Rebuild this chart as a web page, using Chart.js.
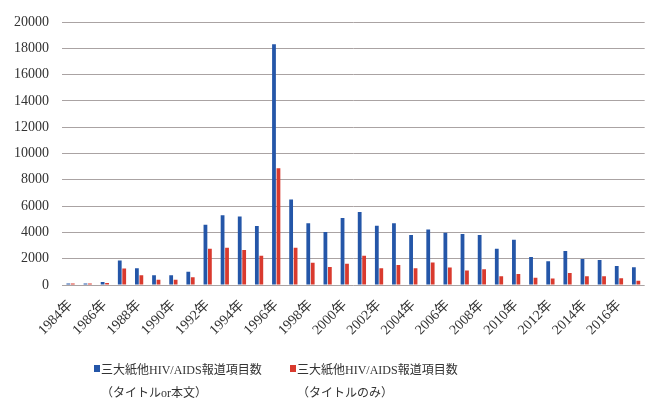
<!DOCTYPE html>
<html lang="ja">
<head>
<meta charset="utf-8">
<script src="https://cdn.jsdelivr.net/npm/chart.js@4/dist/chart.umd.min.js"></script>
<style>
  html, body { margin: 0; padding: 0; background: #fff; overflow: hidden; }
  #wrap { position: relative; width: 654px; height: 398px; overflow: hidden; }
  #legend { position: absolute; left: 0; top: 0; width: 654px; height: 398px; pointer-events: none;
    font-family: 'Liberation Serif', 'Noto Sans CJK JP', serif; font-size: 12px; color: #333; }
  .item { position: absolute; top: 359px; line-height: 23px; }
  .box { position: absolute; left: -7px; top: 6px; width: 6px; height: 7px; }
</style>
</head>
<body>
<div id="wrap">
  <canvas id="chart" width="660" height="398"></canvas>
  <div id="legend">
    <div class="item" style="left:101px"><span class="box" style="background:#2456a8"></span>三大紙他HIV/AIDS報道項目数<br>（タイトルor本文）</div>
    <div class="item" style="left:297px"><span class="box" style="background:#d93a2e"></span>三大紙他HIV/AIDS報道項目数<br>（タイトルのみ）</div>
  </div>
</div>
<script>
// Years 1984-2017
const years = [
  "1984年", "1985年", "1986年", "1987年", "1988年", "1989年", "1990年", "1991年", "1992年", "1993年",
  "1994年", "1995年", "1996年", "1997年", "1998年", "1999年", "2000年", "2001年", "2002年", "2003年",
  "2004年", "2005年", "2006年", "2007年", "2008年", "2009年", "2010年", "2011年", "2012年", "2013年",
  "2014年", "2015年", "2016年", "2017年"
];

// title or body text
const titleOrBody = [
  120, 120, 220, 1870, 1270, 740, 740, 1010, 4590, 5300,
  5200, 4480, 18300, 6500, 4700, 4030, 5100, 5550, 4510, 4700,
  3800, 4230, 3980, 3880, 3800, 2760, 3440, 2130, 1800, 2590,
  1980, 1900, 1440, 1350
];

// title only
const titleOnly = [
  110, 120, 150, 1260, 740, 400, 400, 590, 2760, 2840,
  2660, 2230, 8870, 2840, 1700, 1370, 1620, 2230, 1270, 1520,
  1270, 1720, 1340, 1110, 1190, 660, 840, 560, 490, 910,
  660, 660, 510, 330
];

const seriesNames = ["三大紙他HIV/AIDS報道項目数（タイトルor本文）", "三大紙他HIV/AIDS報道項目数（タイトルのみ）"];

const serif = "'Liberation Serif', 'Noto Sans CJK JP', serif";

new Chart(document.getElementById("chart"), {
  type: "bar",
  data: {
    labels: years,
    datasets: [
      {
        label: seriesNames[0],
        data: titleOrBody,
        backgroundColor: "#2456a8",
        categoryPercentage: 0.52,
        barPercentage: 0.85
      },
      {
        label: seriesNames[1],
        data: titleOnly,
        backgroundColor: "#d93a2e",
        categoryPercentage: 0.52,
        barPercentage: 0.85
      }
    ]
  },
  options: {
    responsive: false,
    animation: false,
    layout: { padding: { top: 22, right: 1, bottom: 0, left: 0 } },
    plugins: {
      legend: { display: false },
      tooltip: { enabled: false }
    },
    scales: {
      x: {
        grid: { display: false, drawTicks: false },
        border: { display: false },
        afterFit: function(scale) { scale.height = 113; },
        ticks: {
          autoSkip: false,
          minRotation: 45,
          maxRotation: 45,
          padding: 12,
          color: "#333",
          font: { family: serif, size: 14 },
          callback: function(value, index) {
            return index % 2 === 0 ? this.getLabelForValue(value) : "";
          }
        }
      },
      y: {
        min: 0,
        max: 20000,
        grid: { color: "#aaa3a3", lineWidth: 1, drawTicks: false },
        border: { display: false },
        afterFit: function(scale) { scale.width = 62; },
        ticks: {
          stepSize: 2000,
          padding: 13,
          color: "#333",
          font: { family: serif, size: 14 },
          callback: function(value) {
            return String(value);
          }
        }
      }
    }
  }
});
</script>
</body>
</html>
